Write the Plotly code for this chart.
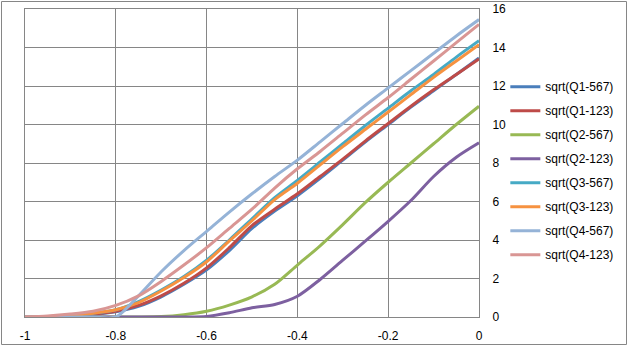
import plotly.graph_objects as go

x_vals = [-1, -0.95, -0.9, -0.85, -0.8, -0.75, -0.7, -0.65, -0.6, -0.55, -0.5,
          -0.45, -0.4, -0.35, -0.3, -0.25, -0.2, -0.15, -0.1, -0.05, 0]

q1_567 = [0, 0.02, 0.05, 0.13, 0.27, 0.55, 1.05, 1.7, 2.45, 3.45, 4.6,
          5.5, 6.3, 7.2, 8.15, 9.1, 10.0, 10.9, 11.75, 12.6, 13.45]
q1_123 = [0, 0.02, 0.06, 0.15, 0.3, 0.6, 1.1, 1.75, 2.55, 3.6, 4.75,
          5.6, 6.4, 7.3, 8.2, 9.15, 10.05, 10.95, 11.8, 12.6, 13.4]
q2_567 = [0, 0, 0, 0, 0, 0, 0.02, 0.12, 0.3, 0.62, 1.05,
          1.7, 2.7, 3.7, 4.8, 5.95, 7.0, 8.0, 9.0, 10.0, 10.95]
q2_123 = [0, 0, 0, 0, 0, 0, 0, 0, 0.03, 0.22, 0.48,
          0.65, 1.08, 1.95, 2.95, 3.95, 4.97, 6.05, 7.3, 8.3, 9.05]
q3_567 = [0, 0.02, 0.08, 0.2, 0.38, 0.8, 1.4, 2.1, 2.95, 4.0, 5.1,
          6.2, 7.1, 8.05, 9.0, 9.95, 10.85, 11.75, 12.6, 13.5, 14.35]
q3_123 = [0, 0.02, 0.08, 0.2, 0.38, 0.75, 1.35, 2.05, 2.87, 3.95, 5.0,
          6.1, 6.95, 7.9, 8.85, 9.75, 10.65, 11.55, 12.45, 13.3, 14.15]
q4_567 = [0, 0, 0, 0, 0, 1.1, 2.35, 3.45, 4.45, 5.45, 6.4,
          7.3, 8.15, 9.1, 10.05, 11.0, 11.9, 12.8, 13.7, 14.6, 15.45]
q4_123 = [0, 0.05, 0.15, 0.3, 0.6, 1.1, 1.85, 2.7, 3.6, 4.6, 5.6,
          6.7, 7.7, 8.6, 9.55, 10.5, 11.4, 12.35, 13.3, 14.25, 15.2]

series_names = ["sqrt(Q1-567)", "sqrt(Q1-123)", "sqrt(Q2-567)", "sqrt(Q2-123)",
                "sqrt(Q3-567)", "sqrt(Q3-123)", "sqrt(Q4-567)", "sqrt(Q4-123)"]
series_vals = [q1_567, q1_123, q2_567, q2_123, q3_567, q3_123, q4_567, q4_123]
colors = ["#4A7EBB", "#BE4B48", "#98B954", "#7D60A0",
          "#46AAC5", "#F69240", "#95B3D7", "#D99694"]

x_ticks = [-1, -0.8, -0.6, -0.4, -0.2, 0]
x_ticktext = ["-1", "-0.8", "-0.6", "-0.4", "-0.2", "0"]
y_ticks = [0, 2, 4, 6, 8, 10, 12, 14, 16]

fig = go.Figure()
for i, (name, vals, col) in enumerate(zip(series_names, series_vals, colors)):
    fig.add_trace(go.Scatter(
        x=x_vals, y=vals, name=name, mode="lines",
        line=dict(color=col, width=3, shape="spline", smoothing=0.8),
        legendgroup=f"g{i}",
    ))

grid = "#868686"
fig.update_layout(
    width=628, height=346,
    margin=dict(l=25, r=149, t=9, b=29, autoexpand=False),
    paper_bgcolor="white", plot_bgcolor="white",
    font=dict(family="Liberation Sans", size=12, color="black"),
    showlegend=True,
    legend=dict(
        x=1.058, xanchor="left", y=0.795, yanchor="top",
        traceorder="grouped", tracegroupgap=5,
        font=dict(size=12), itemwidth=30,
        bgcolor="rgba(0,0,0,0)",
    ),
    xaxis=dict(
        range=[-1, 0], tickvals=x_ticks, ticktext=x_ticktext,
        showgrid=True, gridcolor=grid, gridwidth=1, automargin=False,
        zeroline=False, showline=True, linecolor=grid, linewidth=1, mirror=True,
        ticks="", ticklabelstandoff=8, tickfont=dict(size=12),
    ),
    yaxis=dict(
        range=[0, 16], tickvals=y_ticks, side="right", automargin=False,
        showgrid=True, gridcolor=grid, gridwidth=1,
        zeroline=False, showline=True, linecolor=grid, linewidth=1, mirror=True,
        ticks="", ticklabelstandoff=10, tickfont=dict(size=12),
    ),
    shapes=[dict(
        type="rect", xref="paper", yref="paper",
        x0=(1.5 - 25) / 454, x1=(626.5 - 25) / 454,
        y0=(317 - 344.5) / 308, y1=(317 - 1.5) / 308,
        line=dict(color=grid, width=1), fillcolor="rgba(0,0,0,0)", layer="below",
    )],
)

fig.write_html("out.html")
